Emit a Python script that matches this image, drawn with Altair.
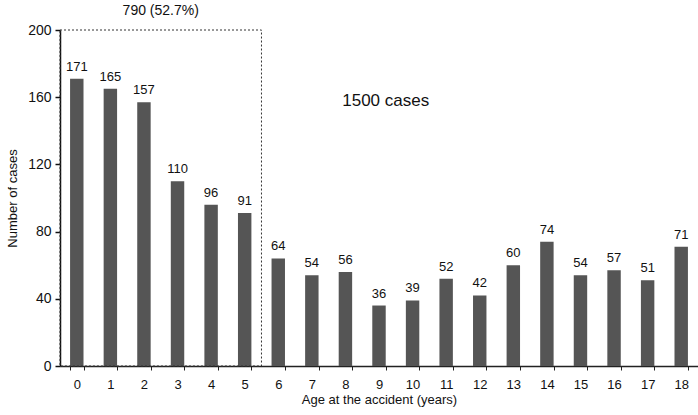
import altair as alt
import pandas as pd

# Age at the accident (years) and number of cases per age
ages = [str(a) for a in range(19)]
cases = [171, 165, 157, 110, 96, 91, 64, 54, 56, 36, 39, 52, 42, 60, 74, 54, 57, 51, 71]

# Highlighted group: ages 0-5
group_start, group_end = 0, 6
group_label = "790 (52.7%)"
total_label = "1500 cases"

FONT = "Liberation Sans"
W, H = 638, 336

bars_df = pd.DataFrame({"age": ages, "cases": cases})
box_df = pd.DataFrame({"x0": [group_start], "x1": [group_end], "y0": [0], "y1": [200]})
group_df = pd.DataFrame({"x": [(group_start + group_end) / 2], "y": [200], "t": [group_label]})
total_df = pd.DataFrame({"x": [9.7], "y": [158], "t": [total_label]})

y_scale = alt.Scale(domain=[0, 200], nice=False)
x_band = alt.Scale(paddingInner=0.6, paddingOuter=0.3)
x_lin = alt.Scale(domain=[0, len(ages)], nice=False, zero=False)

base = alt.Chart(bars_df)

bars = base.mark_bar(color="#555555").encode(
    x=alt.X("age:N", sort=ages, scale=x_band,
            axis=alt.Axis(title="Age at the accident (years)", labelAngle=0,
                          tickBand="extent", tickSize=4, tickColor="#222",
                          domainColor="#222", domainWidth=1.5,
                          labelFont=FONT, labelFontSize=13, labelColor="#111",
                          labelPadding=8,
                          titleFont=FONT, titleFontSize=13, titleFontWeight="normal",
                          titleColor="#111", titlePadding=2)),
    y=alt.Y("cases:Q", scale=y_scale,
            axis=alt.Axis(title="Number of cases", values=[0, 40, 80, 120, 160, 200],
                          grid=False, tickSize=5, tickColor="#111", tickWidth=1.5,
                          domainColor="#111", domainWidth=1.5,
                          labelFont=FONT, labelFontSize=14, labelColor="#111",
                          labelPadding=4,
                          titleFont=FONT, titleFontSize=13, titleFontWeight="normal",
                          titleColor="#111", titlePadding=8)),
)

values = base.mark_text(baseline="bottom", dy=-5, font=FONT, fontSize=13, color="#111").encode(
    x=alt.X("age:N", sort=ages, scale=x_band),
    y=alt.Y("cases:Q", scale=y_scale),
    text="cases:Q",
)

box = alt.Chart(box_df).mark_rect(filled=False, stroke="#333", strokeWidth=1,
                                  strokeDash=[2, 2]).encode(
    x=alt.X("x0:Q", scale=x_lin, axis=None),
    x2="x1:Q",
    y=alt.Y("y0:Q", scale=y_scale),
    y2="y1:Q",
)

group_text = alt.Chart(group_df).mark_text(baseline="bottom", dy=-12, font=FONT,
                                           fontSize=14, color="#111").encode(
    x=alt.X("x:Q", scale=x_lin, axis=None),
    y=alt.Y("y:Q", scale=y_scale),
    text="t:N",
)

total_text = alt.Chart(total_df).mark_text(font=FONT, fontSize=17, color="#111").encode(
    x=alt.X("x:Q", scale=x_lin, axis=None),
    y=alt.Y("y:Q", scale=y_scale),
    text="t:N",
)

# bars and their value labels share the band scale; the annotations use a
# linear scale whose units are category boundaries
chart = alt.layer(
    alt.layer(bars, values),
    alt.layer(box, group_text, total_text),
).resolve_scale(
    x="independent"
).properties(
    width=W, height=H,
    background="white",
    autosize=alt.AutoSizeParams(type="none"),
    padding={"left": 60, "top": 30, "right": 0, "bottom": 49},
).configure_view(stroke=None)

chart.save("out.html", embed_options={"renderer": "svg", "actions": False})
